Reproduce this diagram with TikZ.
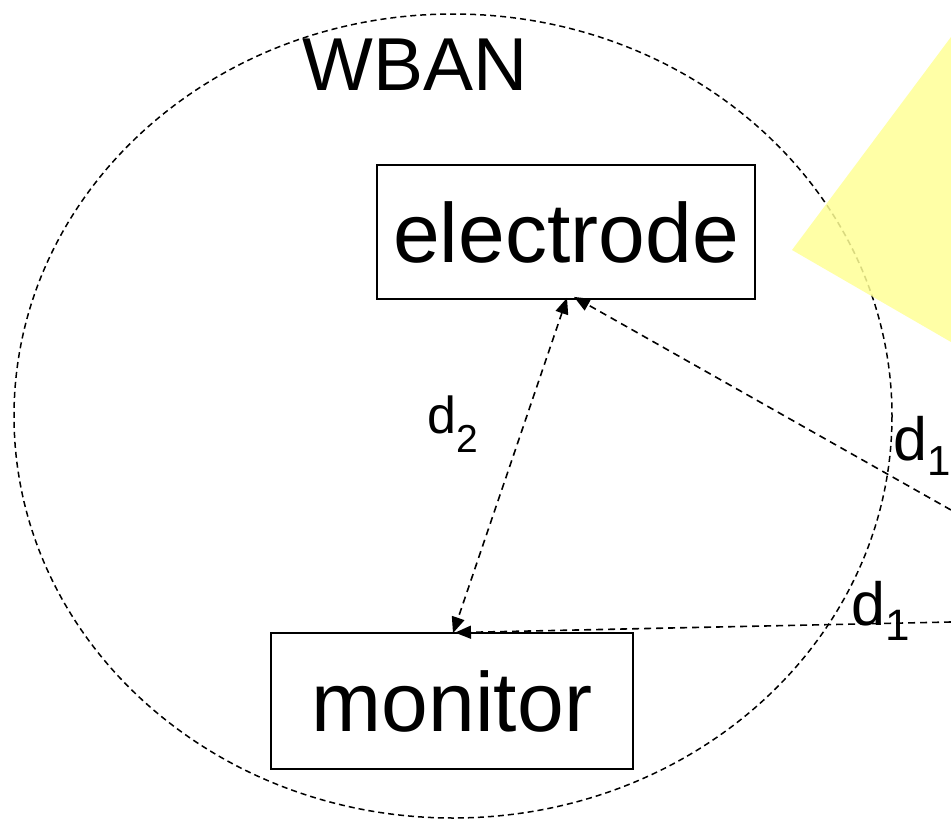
\documentclass[tikz,border=0pt]{standalone}
\usepackage{fontspec}
\setmainfont{Liberation Sans}
\usetikzlibrary{arrows.meta}
\definecolor{paleyellow}{RGB}{255,255,150}

% distance label: letter d with a lowered index (index size, drop)
\newcommand{\dsub}[3]{d\raisebox{-#3pt}{\fontsize{#2}{#2}\selectfont #1}}

\begin{document}
\begin{tikzpicture}[x=1pt,y=-1pt,
  box/.style={draw,line width=1.8pt,inner sep=0pt,font=\fontsize{84}{84}\selectfont},
  link/.style={dash pattern=on 7pt off 5pt,line width=1.6pt},
  tipend/.style={-{Triangle[length=16pt,width=13pt]}},
  tipboth/.style={{Triangle[length=16pt,width=13pt]}-{Triangle[length=16pt,width=13pt]}},
  lblsmall/.style={inner sep=0pt,anchor=base west,font=\fontsize{52}{52}\selectfont},
  lblbig/.style={inner sep=0pt,anchor=base west,font=\fontsize{61}{61}\selectfont},
]
\useasboundingbox (0,0) rectangle (951,822);
\clip (0,0) rectangle (951,822);

% network boundary
\draw[dash pattern=on 6pt off 4pt,line width=1.5pt] (453,416) ellipse [x radius=439, y radius=402];
\node[inner sep=0pt,anchor=base west,font=\fontsize{75}{75}\selectfont] (wban) at (302,90) {WBAN};

% incoming beam
\fill[paleyellow,opacity=0.85] (792,250) -- (951,37) -- (951,342) -- cycle;

% devices
\node[box,minimum width=378,minimum height=134] (electrode) at (566,232) {electrode};
\node[box,minimum width=362,minimum height=136] (monitor) at (452,701) {monitor};

% free ends of the external links
\coordinate (ext1) at (951,510);
\coordinate (ext2) at (951,622);

% links
\draw[link,tipboth] ([xshift=1pt,yshift=2pt]electrode.south) -- ([xshift=1pt,yshift=-1pt]monitor.north);
\draw[link,tipend] (ext1) -- ([xshift=8pt,yshift=3pt]electrode.south);
\draw[link,tipend] (ext2) -- ([xshift=3pt,yshift=-0.5pt]monitor.north);

% link labels
\node[lblsmall] (ld2) at (427,433) {\dsub{2}{39}{19}};
\node[lblbig] (ld1a) at (893,460) {\dsub{1}{42}{15}};
\node[lblbig] (ld1b) at (851,625) {\dsub{1}{44}{15}};
\end{tikzpicture}
\end{document}
